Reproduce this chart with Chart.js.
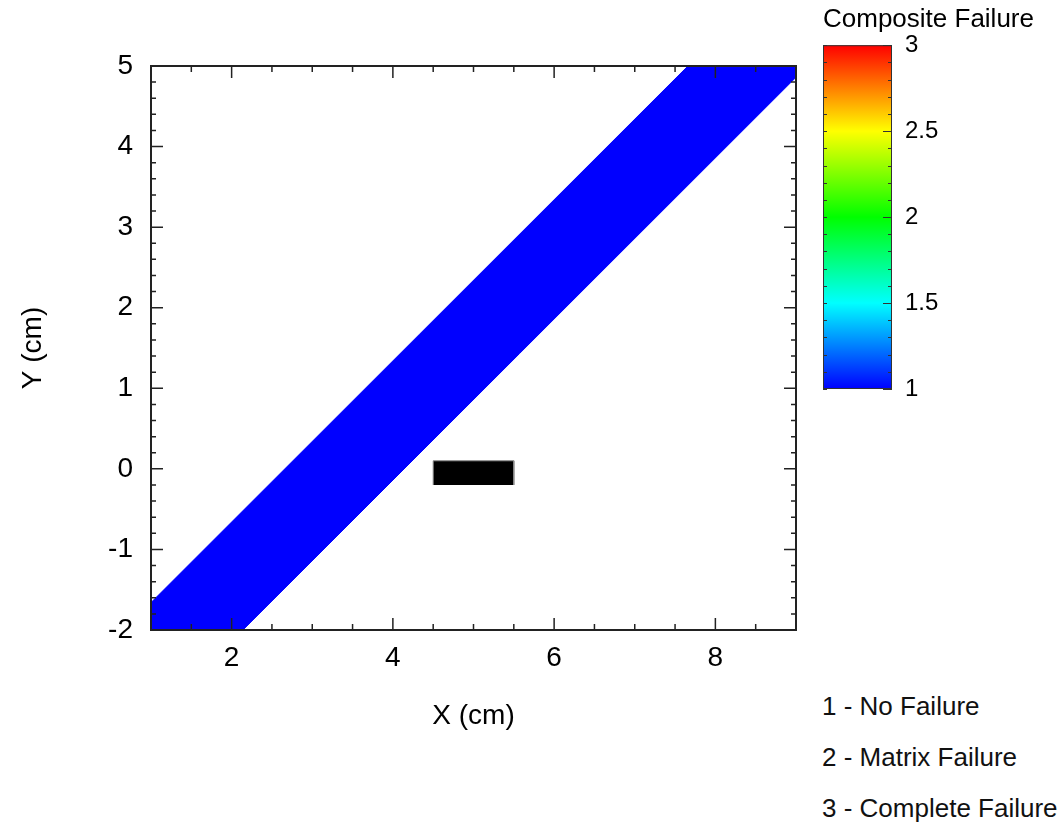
<!DOCTYPE html>
<html lang="en">
<head>
  <meta charset="UTF-8">
  <title>Composite Failure</title>
  <script src="https://cdn.jsdelivr.net/npm/chart.js"></script>
  <style>
    body { margin: 0; background: #fff; width: 1063px; height: 823px; overflow: hidden; position: relative; font-family: "Liberation Sans", Arial, sans-serif; }
    #main { position: absolute; left: 0; top: 0; }
    #cbar { position: absolute; left: 796px; top: 0; }
    .note { position: absolute; left: 822px; font-size: 26px; line-height: 51px; color: #111; white-space: nowrap; }
  </style>
</head>
<body>
  <canvas id="main" width="820" height="823"></canvas>
  <canvas id="cbar" width="262" height="420"></canvas>
  <div class="note" style="top:681px">1 - No Failure</div>
  <div class="note" style="top:732px">2 - Matrix Failure</div>
  <div class="note" style="top:783px">3 - Complete Failure</div>
  <script>
    // failure band (value 1 = no failure) as a polygon in x/y (cm)
    const bandX = [1, 1, 7.66, 9, 9, 2.14];
    const bandY = [-2, -1.66, 5, 5, 4.86, -2];
    // the hole / cut-out
    const holeX = [4.5, 4.5, 5.5, 5.5];
    const holeY = [-0.2, 0.1, 0.1, -0.2];

    const xTicks = [2, 4, 6, 8];
    const yTicks = [-2, -1, 0, 1, 2, 3, 4, 5];
    const xMinorStep = 0.5;
    const yMinorStep = 0.2;

    const cbarTicks = [1, 1.5, 2, 2.5, 3];
    const cbarColors = ['#0000ff', '#00ffff', '#00ff00', '#ffff00', '#ff0000'];
    const cbarMinorStep = 0.1;

    const FONT = '"Liberation Sans", Arial, sans-serif';
    Chart.defaults.font.family = FONT;
    Chart.defaults.color = '#000';

    function pts(xs, ys) { return xs.map((x, i) => ({x, y: ys[i]})); }

    function steps(min, max, step) {
      const out = [];
      for (let v = min; v <= max + 1e-9; v += step) out.push(Math.round(v * 1000) / 1000);
      return out;
    }

    const frameTicks = {
      id: 'frameTicks',
      afterDatasetsDraw(chart) {
        const {ctx, chartArea: a, scales: {x, y}} = chart;
        ctx.save();
        ctx.strokeStyle = '#222';
        ctx.lineWidth = 1.5;
        ctx.beginPath();
        steps(x.min, x.max, xMinorStep).forEach(v => {
          const px = x.getPixelForValue(v);
          const len = xTicks.includes(v) ? 12 : 6;
          ctx.moveTo(px, a.bottom); ctx.lineTo(px, a.bottom - len);
          ctx.moveTo(px, a.top); ctx.lineTo(px, a.top + len);
        });
        steps(y.min, y.max, yMinorStep).forEach(v => {
          const py = y.getPixelForValue(v);
          const len = yTicks.includes(v) ? 12 : 5;
          ctx.moveTo(a.left, py); ctx.lineTo(a.left + len, py);
          ctx.moveTo(a.right, py); ctx.lineTo(a.right - len, py);
        });
        ctx.stroke();
        ctx.lineWidth = 2;
        ctx.strokeRect(a.left, a.top, a.right - a.left, a.bottom - a.top);
        ctx.restore();
      }
    };

    new Chart(document.getElementById('main'), {
      type: 'scatter',
      data: {
        datasets: [
          {
            data: pts(bandX, bandY),
            showLine: true,
            fill: 'shape',
            backgroundColor: '#0000ff',
            borderColor: '#0000ff',
            borderWidth: 1,
            pointRadius: 0
          },
          {
            data: pts(holeX, holeY),
            showLine: true,
            fill: 'shape',
            backgroundColor: '#000',
            borderColor: '#888',
            borderWidth: 1,
            pointRadius: 0
          }
        ]
      },
      options: {
        responsive: false,
        animation: false,
        layout: { padding: { left: 0, top: 66, right: 24, bottom: 83 } },
        plugins: { legend: { display: false }, tooltip: { enabled: false } },
        scales: {
          x: {
            type: 'linear', min: 1, max: 9,
            afterBuildTicks: s => { s.ticks = xTicks.map(v => ({value: v})); },
            afterFit: s => { s.height = 110; },
            grid: { display: false, drawTicks: false },
            border: { display: false },
            ticks: { font: { size: 28 }, padding: 11, color: '#000' },
            title: { display: true, text: 'X (cm)', font: { size: 28 }, padding: { top: 0, bottom: 7 }, color: '#000' }
          },
          y: {
            type: 'linear', min: -2, max: 5,
            afterBuildTicks: s => { s.ticks = yTicks.map(v => ({value: v})); },
            afterFit: s => { s.width = 151; },
            grid: { display: false, drawTicks: false },
            border: { display: false },
            ticks: { font: { size: 28 }, padding: 18, color: '#000' },
            title: { display: true, text: 'Y (cm)', font: { size: 28 }, padding: { top: 16, bottom: 0 }, color: '#000' }
          }
        }
      },
      plugins: [frameTicks]
    });

    const cbarFrame = {
      id: 'cbarFrame',
      afterDatasetsDraw(chart) {
        const {ctx, chartArea: a, scales: {y}} = chart;
        ctx.save();
        ctx.strokeStyle = '#333';
        ctx.lineWidth = 1;
        ctx.beginPath();
        steps(y.min, y.max, cbarMinorStep).forEach(v => {
          const py = Math.round(y.getPixelForValue(v)) + 0.5;
          const major = cbarTicks.includes(v);
          ctx.moveTo(a.left, py); ctx.lineTo(a.left + 4, py);
          ctx.moveTo(a.right, py); ctx.lineTo(a.right - (major ? 9 : 4), py);
        });
        ctx.stroke();
        ctx.strokeRect(a.left + 0.5, a.top + 0.5, a.right - a.left - 1, a.bottom - a.top - 1);
        ctx.restore();
      }
    };

    new Chart(document.getElementById('cbar'), {
      type: 'bar',
      data: {
        labels: ['Composite Failure'],
        datasets: [{
          data: [[cbarTicks[0], cbarTicks[cbarTicks.length - 1]]],
          barPercentage: 1,
          categoryPercentage: 1,
          borderWidth: 0,
          backgroundColor: (c) => {
            const {chart} = c;
            if (!chart.chartArea) return cbarColors[0];
            const y = chart.scales.y;
            const y0 = y.getPixelForValue(cbarTicks[0]);
            const y1 = y.getPixelForValue(cbarTicks[cbarTicks.length - 1]);
            const g = chart.ctx.createLinearGradient(0, y0, 0, y1);
            cbarTicks.forEach((v, i) => g.addColorStop((v - cbarTicks[0]) / (cbarTicks[cbarTicks.length - 1] - cbarTicks[0]), cbarColors[i]));
            return g;
          }
        }]
      },
      options: {
        responsive: false,
        animation: false,
        layout: { padding: { left: 27, top: 0, right: 0, bottom: 31 } },
        plugins: {
          legend: { display: false },
          tooltip: { enabled: false },
          title: { display: true, align: 'start', text: 'Composite Failure', font: { size: 26, weight: 'normal' }, color: '#000', padding: { top: 4, bottom: 10 } }
        },
        scales: {
          x: { display: false },
          y: {
            position: 'right', min: 1, max: 3,
            afterBuildTicks: s => { s.ticks = cbarTicks.map(v => ({value: v})); },
            afterFit: s => { s.width = 166; },
            grid: { display: false, drawTicks: false },
            border: { display: false },
            ticks: { font: { size: 24 }, padding: 13, color: '#000', callback: v => String(v) }
          }
        }
      },
      plugins: [cbarFrame]
    });
  </script>
</body>
</html>
